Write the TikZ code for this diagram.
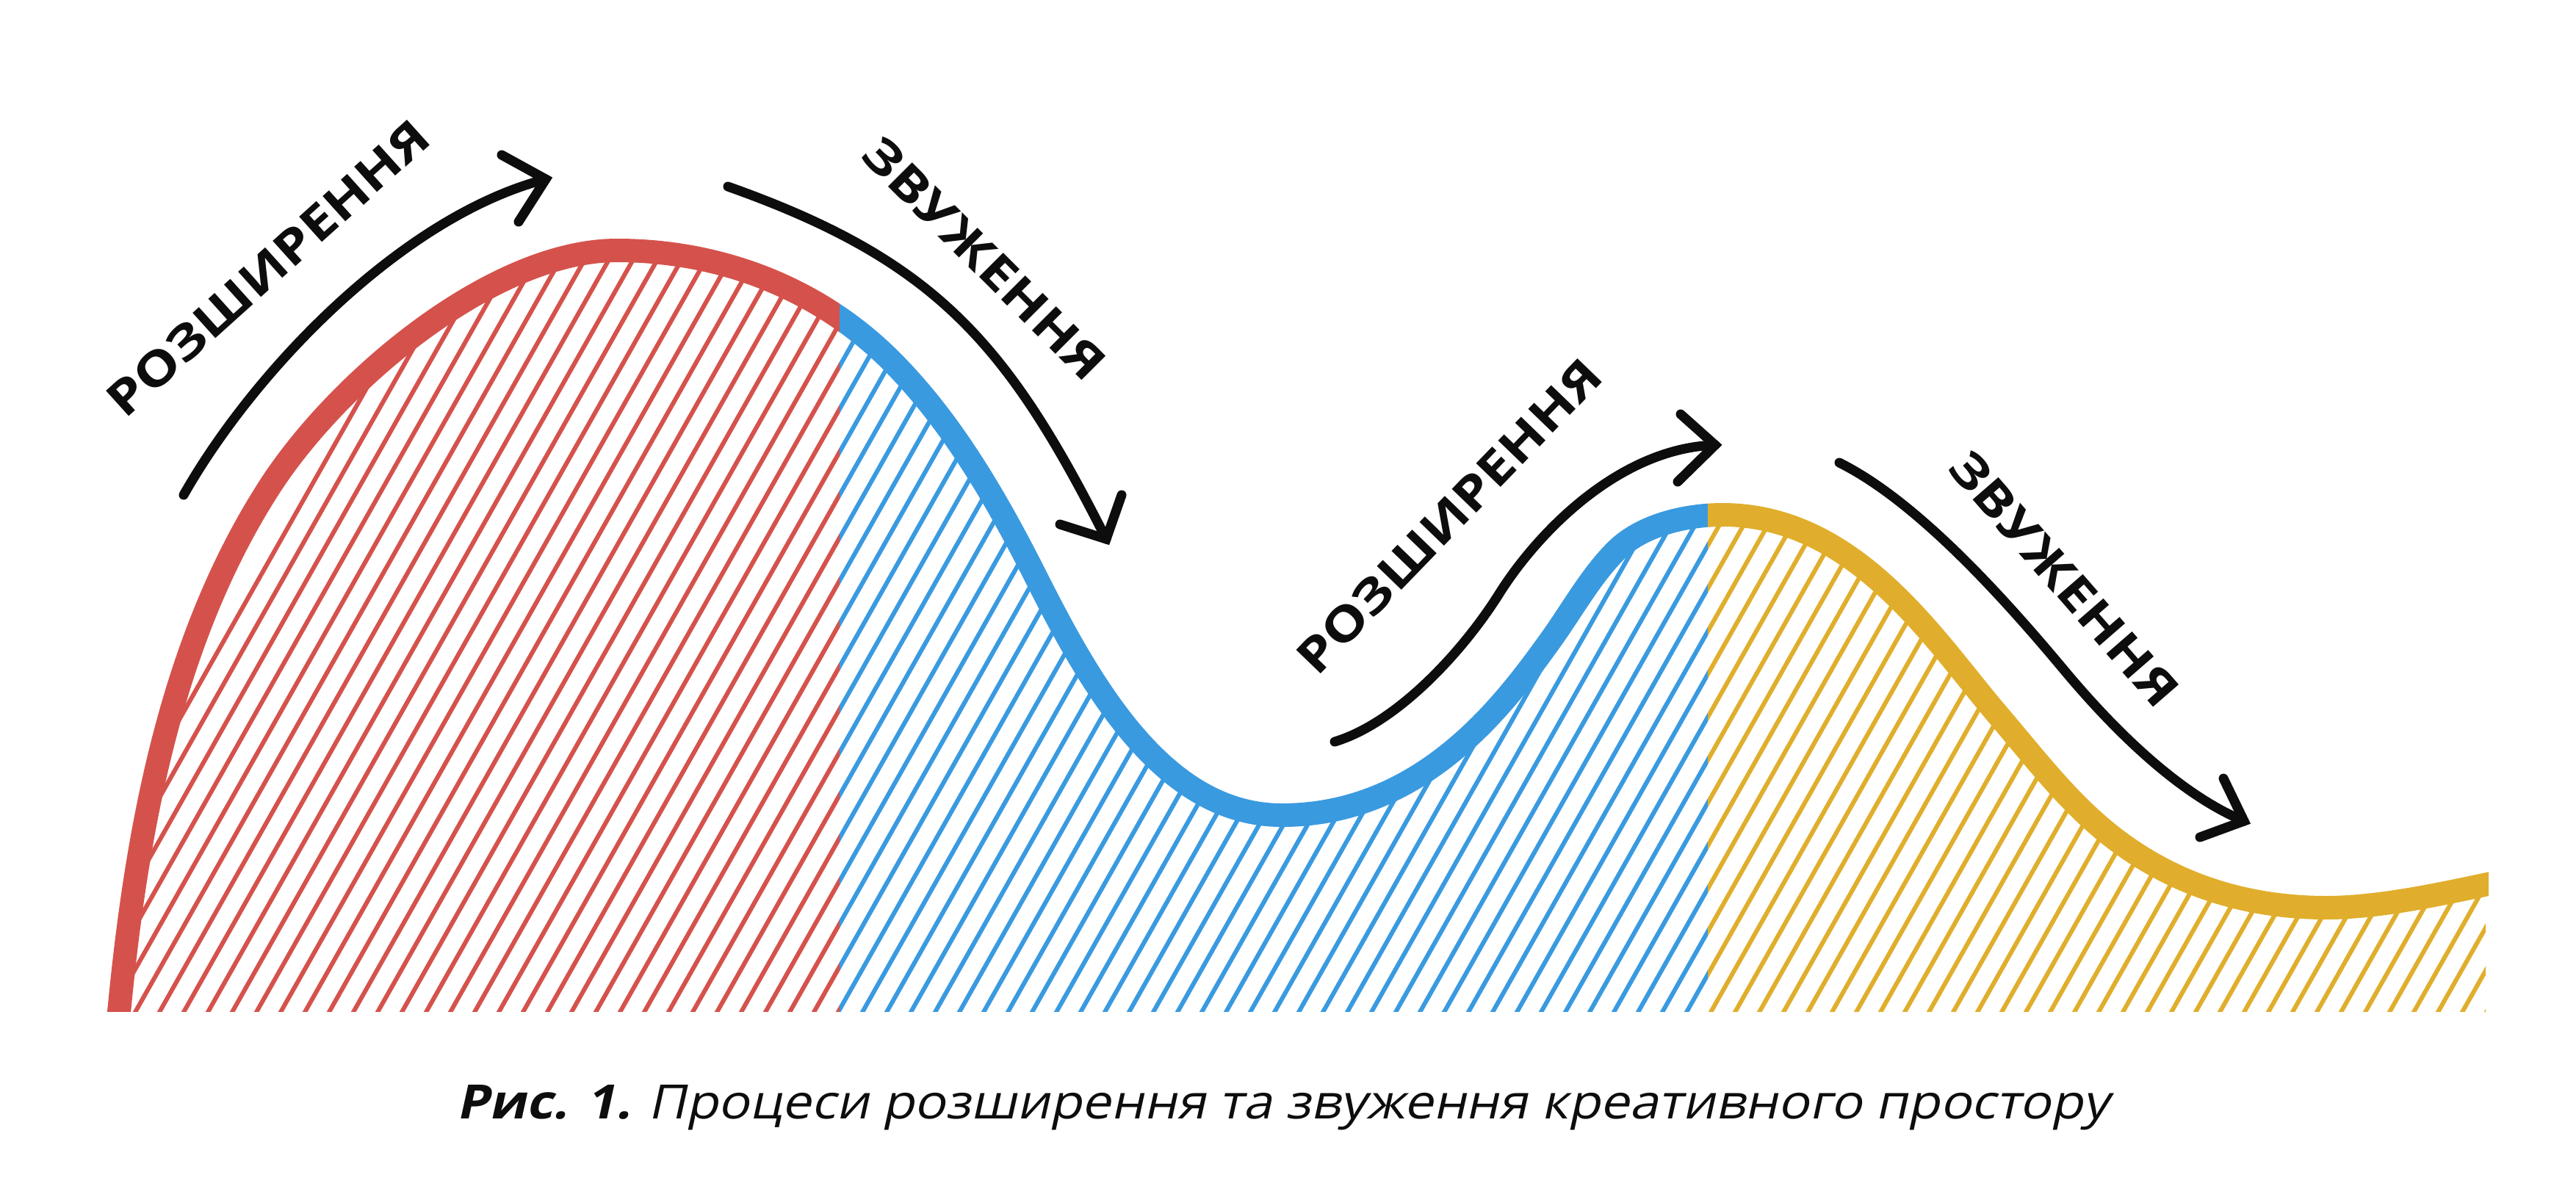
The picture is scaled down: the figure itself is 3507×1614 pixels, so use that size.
\documentclass[tikz,border=0pt]{standalone}
\usepackage{fontspec}
\setmainfont{Open Sans}
\newfontfamily\capfont[FakeSlant=0.2]{Open Sans}
\usepackage{graphicx}
\definecolor{redc}{RGB}{213,82,76}
\definecolor{bluec}{RGB}{58,154,224}
\definecolor{yellowc}{RGB}{224,174,44}
\definecolor{ink}{RGB}{13,13,13}
\tikzset{
  mainstroke/.style={line width=0.32cm},
  hatchline/.style={line width=0.06cm},
  arrowline/.style={line width=0.13cm, line cap=round, line join=miter, draw=ink},
  lbl/.style={inner sep=0pt, text=ink, font=\bfseries},
}
\newcommand\mycurve{(160,1400) .. controls (183,1146) and (229,877) .. (367,663)
 .. controls (459,520) and (670,341) .. (840,341)
 .. controls (980,341) and (1114,392) .. (1213,491)
 .. controls (1296,574) and (1357,680) .. (1410,785)
 .. controls (1486,936) and (1585,1110) .. (1745,1110)
 .. controls (1935,1110) and (2046,962) .. (2110,873)
 .. controls (2139,833) and (2165,785) .. (2200,750)
 .. controls (2235,715) and (2295,701) .. (2345,701)
 .. controls (2525,701) and (2633,871) .. (2717,970)
 .. controls (2760,1020) and (2801,1074) .. (2850,1118)
 .. controls (2939,1198) and (3047,1236) .. (3167,1236)
 .. controls (3247,1236) and (3342,1213) .. (3420,1197)}
\newcommand\hatchset[1]{\foreach \k in {0,...,103}{\draw[hatchline,#1] ({8.4+33*\k},1397) -- ({641.2+33*\k},277);}}
\begin{document}
\begin{tikzpicture}[x=0.01cm,y=-0.01cm]
\useasboundingbox (0,0) rectangle (3507,1614);
% hatching
\begin{scope}
  \clip (0,0) rectangle (3384,1377);
  \clip \mycurve -- (3420,1420) -- (150,1420) -- cycle;
  \begin{scope}\clip (0,0) rectangle (1143,1420); \hatchset{redc}\end{scope}
  \begin{scope}\clip (1143,0) rectangle (2325,1420); \hatchset{bluec}\end{scope}
  \begin{scope}\clip (2325,0) rectangle (3384,1420); \hatchset{yellowc}\end{scope}
\end{scope}
% main curve
\foreach \xa/\xb/\cc in {0/1143/redc,1143/2325/bluec,2325/3388/yellowc}{
  \begin{scope}\clip (\xa,0) rectangle (\xb,1377); \draw[mainstroke,draw=\cc] \mycurve; \end{scope}
}
% arrows
\coordinate (a1s) at (250,674); \coordinate (a1t) at (743,244);
\coordinate (a1u) at (683,211); \coordinate (a1l) at (706,302);
\draw[arrowline] (a1s) .. controls (347,503) and (549,294) .. (a1t);
\draw[arrowline] (a1u) -- (a1t) -- (a1l);
\coordinate (a2s) at (991,254); \coordinate (a2t) at (1506,734);
\coordinate (a2u) at (1527,674); \coordinate (a2l) at (1443,714);
\draw[arrowline] (a2s) .. controls (1273,354) and (1371,466) .. (a2t);
\draw[arrowline] (a2u) -- (a2t) -- (a2l);
\coordinate (a3s) at (1817,1010); \coordinate (a3m) at (2040,810); \coordinate (a3t) at (2335,606);
\coordinate (a3u) at (2288,564); \coordinate (a3l) at (2284,656);
\draw[arrowline] (a3s) .. controls (1903,984) and (1992,886) .. (a3m) .. controls (2093,725) and (2205,610) .. (a3t);
\draw[arrowline] (a3u) -- (a3t) -- (a3l);
\coordinate (a4s) at (2504,630); \coordinate (a4m) at (2808,910); \coordinate (a4t) at (3055,1118);
\coordinate (a4u) at (3027,1060); \coordinate (a4l) at (2995,1140);
\draw[arrowline] (a4s) .. controls (2611,683) and (2731,818) .. (a4m) .. controls (2872,987) and (2963,1080) .. (a4t);
\draw[arrowline] (a4u) -- (a4t) -- (a4l);
% labels
\node[lbl,rotate=42] (lab1) at (365,365) {\resizebox{5.65cm}{0.47cm}{РОЗШИРЕННЯ}};
\node[lbl,rotate=-45] (lab2) at (1340,352) {\resizebox{4.37cm}{0.47cm}{ЗВУЖЕННЯ}};
\node[lbl,rotate=46] (lab3) at (1973,703) {\resizebox{5.65cm}{0.47cm}{РОЗШИРЕННЯ}};
\node[lbl,rotate=-49] (lab4) at (2810,788) {\resizebox{4.37cm}{0.47cm}{ЗВУЖЕННЯ}};
% caption
\node[anchor=base, inner sep=0pt, text=ink] (cap) at (1746,1523) {\resizebox{22.48cm}{0.46cm}{\capfont\textbf{Рис. 1.} Процеси розширення та звуження креативного простору}};
\end{tikzpicture}
\end{document}
